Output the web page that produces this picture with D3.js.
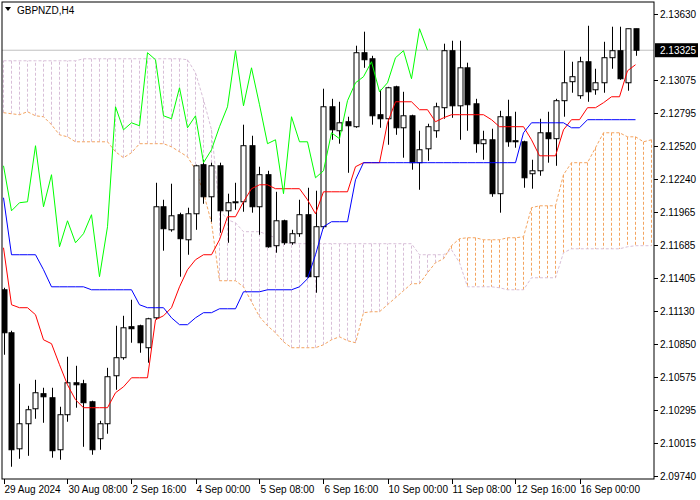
<!DOCTYPE html>
<html>
<head>
<meta charset="utf-8">
<script src="https://cdn.jsdelivr.net/npm/d3@7"></script>
<style>
  body { margin: 0; background: #fff; }
  text { font-family: "Liberation Sans", Arial, sans-serif; font-size: 10px; }
</style>
</head>
<body>
<div id="chart"></div>
<script>
// GBPNZD H4 candles, 29 Aug - 16 Sep 2024
var opens = [2.11308,2.10946,2.09969,2.10180,2.10306,2.10433,2.10399,2.09961,2.10256,2.10525,
  2.10517,2.10365,2.10054,2.10180,2.10584,2.10736,2.10997,2.11005,2.10820,2.11072,
  2.12007,2.11813,2.11940,2.11729,2.11948,2.12361,2.12091,2.12352,2.11973,2.12041,
  2.12049,2.12521,2.12007,2.12277,2.11679,2.11889,2.11704,2.11780,2.11940,2.11418,
  2.11839,2.12849,2.12647,2.12723,2.12681,2.13304,2.13253,2.12782,2.12748,2.13017,
  2.12672,2.12773,2.12378,2.12495,2.12647,2.12841,2.13321,2.12857,2.13177,2.12874,
  2.12538,2.12571,2.12117,2.12765,2.12563,2.12554,2.12285,2.12310,2.12630,2.12580,
  2.12900,2.13060,2.12942,2.13228,2.12992,2.13051,2.13262,2.13321,2.13051,2.13506]
var highs = [2.11325,2.10963,2.10517,2.10331,2.10550,2.10483,2.10483,2.10323,2.10744,2.10668,
  2.10550,2.10374,2.10205,2.10651,2.11005,2.11089,2.11224,2.11014,2.11072,2.12209,
  2.12066,2.12201,2.11957,2.11999,2.12361,2.12403,2.12378,2.12378,2.12117,2.12209,
  2.12698,2.12605,2.12344,2.12310,2.12133,2.11898,2.11813,2.12066,2.12167,2.12142,
  2.13001,2.12916,2.12891,2.12765,2.13363,2.13481,2.13278,2.12992,2.13017,2.13026,
  2.12975,2.12782,2.12647,2.12706,2.12883,2.13380,2.13405,2.13405,2.13220,2.12916,
  2.12647,2.12664,2.12815,2.12908,2.12807,2.12563,2.12403,2.12748,2.12807,2.12916,
  2.13321,2.13228,2.13270,2.13531,2.13169,2.13396,2.13523,2.13523,2.13506,2.13506]
var lows = [2.10761,2.09818,2.09885,2.09910,2.10222,2.10188,2.09894,2.09877,2.10197,2.10315,
  2.09986,2.09919,2.09961,2.10096,2.10466,2.10719,2.10862,2.10778,2.10694,2.11056,
  2.11637,2.11797,2.11418,2.11603,2.11813,2.12032,2.11881,2.11788,2.11704,2.11982,
  2.11965,2.11957,2.11771,2.11662,2.11620,2.11687,2.11687,2.11754,2.11409,2.11283,
  2.11822,2.12571,2.12538,2.12293,2.12672,2.13177,2.12698,2.12672,2.12529,2.12613,
  2.12420,2.12319,2.12150,2.12394,2.12588,2.12748,2.12756,2.12571,2.12647,2.12462,
  2.12403,2.12091,2.11957,2.12512,2.12504,2.12167,2.12159,2.12268,2.12378,2.12352,
  2.12765,2.12967,2.12916,2.12891,2.12950,2.12967,2.13169,2.13076,2.12984,2.13278]
var closes = [2.10946,2.09961,2.10180,2.10298,2.10441,2.10407,2.09953,2.10256,2.10525,2.10508,
  2.10357,2.09961,2.10180,2.10576,2.10736,2.10988,2.10980,2.10862,2.11064,2.12007,
  2.11822,2.11931,2.11738,2.11948,2.12352,2.12091,2.12352,2.11973,2.12041,2.12049,
  2.12521,2.12007,2.12277,2.11670,2.11889,2.11704,2.11780,2.11940,2.11418,2.11839,
  2.12849,2.12655,2.12714,2.12689,2.13304,2.13245,2.12773,2.12748,2.13009,2.12672,
  2.12773,2.12378,2.12487,2.12681,2.12849,2.13321,2.12857,2.13177,2.12866,2.12538,
  2.12571,2.12117,2.12765,2.12554,2.12554,2.12251,2.12310,2.12630,2.12580,2.12900,
  2.13051,2.13102,2.13228,2.12975,2.13051,2.13262,2.13321,2.13085,2.13506,2.13325]

// Ichimoku lines
var tenkan = [2.11662,2.11182,2.11157,2.11157,2.11098,2.10887,2.10854,2.10677,2.10508,2.10382,
  2.10315,2.10315,2.10315,2.10315,2.10441,2.10491,2.10567,2.10567,2.10567,2.11056,
  2.11089,2.11157,2.11333,2.11477,2.11561,2.11603,2.11603,2.11729,2.11923,2.11923,
  2.12049,2.12159,2.12192,2.12192,2.12159,2.12159,2.12159,2.12159,2.12066,2.11948,
  2.12133,2.12133,2.12133,2.12133,2.12344,2.12378,2.12378,2.12378,2.12714,2.12891,
  2.12891,2.12891,2.12824,2.12824,2.12723,2.12756,2.12782,2.12782,2.12782,2.12782,
  2.12782,2.12740,2.12681,2.12681,2.12681,2.12681,2.12571,2.12436,2.12436,2.12436,
  2.12655,2.12740,2.12740,2.12841,2.12841,2.12883,2.12933,2.12933,2.13152,2.13203]
var kijun = [2.12083,2.11603,2.11603,2.11603,2.11603,2.11477,2.11333,2.11333,2.11333,2.11333,
  2.11333,2.11308,2.11308,2.11308,2.11308,2.11308,2.11308,2.11182,2.11157,2.11157,
  2.11157,2.11072,2.11014,2.11014,2.11072,2.11115,2.11115,2.11148,2.11148,2.11148,
  2.11291,2.11291,2.11291,2.11308,2.11308,2.11308,2.11308,2.11333,2.11401,2.11603,
  2.11839,2.11881,2.11881,2.11881,2.12234,2.12378,2.12378,2.12378,2.12378,2.12378,
  2.12378,2.12378,2.12378,2.12378,2.12378,2.12378,2.12378,2.12378,2.12378,2.12378,
  2.12378,2.12378,2.12378,2.12378,2.12378,2.12630,2.12714,2.12714,2.12714,2.12714,
  2.12714,2.12672,2.12672,2.12740,2.12740,2.12740,2.12740,2.12740,2.12740,2.12740]
var senkouA = [2.12799,2.12790,2.12782,2.12807,2.12773,2.12765,2.12698,2.12613,2.12596,2.12554,
  2.12554,2.12554,2.12554,2.12554,2.12470,2.12420,2.12462,2.12538,2.12538,2.12538,
  2.12538,2.12512,2.12470,2.12428,2.12319,2.12125,2.11872,2.11384,2.11384,2.11384,
  2.11333,2.11207,2.11081,2.11005,2.10946,2.10870,2.10820,2.10820,2.10820,2.10820,
  2.10845,2.10887,2.10912,2.10879,2.10862,2.11115,2.11123,2.11123,2.11182,2.11241,
  2.11300,2.11359,2.11359,2.11451,2.11536,2.11569,2.11679,2.11738,2.11746,2.11746,
  2.11729,2.11729,2.11729,2.11746,2.11746,2.11754,2.11999,2.12015,2.12015,2.12015,
  2.12277,2.12378,2.12378,2.12378,2.12504,2.12630,2.12630,2.12630,2.12596,2.12596,
  2.12554,2.12571]
var senkouB = [2.13236,2.13236,2.13236,2.13236,2.13236,2.13236,2.13236,2.13236,2.13236,2.13236,
  2.13253,2.13253,2.13253,2.13253,2.13253,2.13253,2.13253,2.13253,2.13253,2.13253,
  2.13253,2.13253,2.13253,2.13245,2.13135,2.12908,2.12655,2.11982,2.11898,2.11872,
  2.11797,2.11797,2.11797,2.11771,2.11746,2.11704,2.11696,2.11696,2.11696,2.11696,
  2.11696,2.11696,2.11696,2.11696,2.11696,2.11696,2.11696,2.11696,2.11696,2.11696,
  2.11696,2.11696,2.11603,2.11603,2.11603,2.11603,2.11645,2.11536,2.11333,2.11333,
  2.11333,2.11333,2.11325,2.11308,2.11308,2.11308,2.11409,2.11409,2.11409,2.11409,
  2.11620,2.11653,2.11653,2.11653,2.11653,2.11653,2.11653,2.11653,2.11670,2.11679,
  2.11679,2.11679]

var priceTicks = [2.13630,2.13075,2.12795,2.12520,2.12240,2.11965,2.11685,2.11405,2.11130,2.10850,2.10575,2.10295,2.10015,2.09740]
var timeLabels = ["29 Aug 2024","30 Aug 08:00","2 Sep 16:00","4 Sep 00:00","5 Sep 08:00","6 Sep 16:00","10 Sep 00:00","11 Sep 08:00","12 Sep 16:00","16 Sep 00:00"]
var lastPrice = 2.13325
var chikouShift = 26

var W = 700, H = 500
var plot = {left: 2, top: 2, right: 654, bottom: 479}

var x = d3.scaleLinear().domain([0, 81]).range([3.5, 651.5])
var y = d3.scaleLinear().domain([2.09740, 2.13630]).range([476, 14])

var svg = d3.select("#chart").append("svg").attr("width", W).attr("height", H)

svg.append("clipPath").attr("id", "clip").append("rect")
  .attr("x", plot.left).attr("y", plot.top)
  .attr("width", plot.right - plot.left).attr("height", plot.bottom - plot.top)

var g = svg.append("g").attr("clip-path", "url(#clip)")

// cloud hatching
g.selectAll(".hatch").data(senkouA).enter().append("line")
  .attr("x1", function(d, i) { return x(i) }).attr("x2", function(d, i) { return x(i) })
  .attr("y1", function(d) { return y(d) })
  .attr("y2", function(d, i) { return y(senkouB[i]) })
  .attr("stroke", function(d, i) { return d > senkouB[i] ? "#f4a460" : "#d8bfd8" })
  .attr("stroke-dasharray", "3,2")

var line = d3.line().x(function(d, i) { return x(i) }).y(function(d) { return y(d) })

g.append("path").attr("d", line(senkouA)).attr("fill", "none")
  .attr("stroke", "#f4a460").attr("stroke-dasharray", "3,2")
g.append("path").attr("d", line(senkouB)).attr("fill", "none")
  .attr("stroke", "#d8bfd8").attr("stroke-dasharray", "3,2")

// bid line
g.append("line").attr("x1", plot.left).attr("x2", plot.right)
  .attr("y1", y(lastPrice)).attr("y2", y(lastPrice)).attr("stroke", "#c0c0c0")

// candles
var bars = d3.range(closes.length)
g.selectAll(".wick").data(bars).enter().append("line")
  .attr("x1", function(i) { return Math.round(x(i)) + 0.5 })
  .attr("x2", function(i) { return Math.round(x(i)) + 0.5 })
  .attr("y1", function(i) { return y(highs[i]) })
  .attr("y2", function(i) { return y(lows[i]) })
  .attr("stroke", "#000")

g.selectAll(".body").data(bars).enter().append("rect")
  .attr("x", function(i) { return Math.round(x(i)) - 2 })
  .attr("width", 5)
  .attr("y", function(i) { return y(Math.max(opens[i], closes[i])) })
  .attr("height", function(i) { return Math.max(1, Math.abs(y(opens[i]) - y(closes[i]))) })
  .attr("fill", function(i) { return closes[i] >= opens[i] ? "#fff" : "#000" })
  .attr("stroke", "#000")

// tenkan, kijun, chikou
g.append("path").attr("d", line(tenkan)).attr("fill", "none").attr("stroke", "#ff0000")
g.append("path").attr("d", line(kijun)).attr("fill", "none").attr("stroke", "#0000ff")
var chikou = closes.slice(chikouShift)
g.append("path").attr("d", line(chikou)).attr("fill", "none").attr("stroke", "#00ff00")

// frame
svg.append("rect").attr("x", plot.left).attr("y", plot.top)
  .attr("width", plot.right - plot.left).attr("height", plot.bottom - plot.top)
  .attr("fill", "none").attr("stroke", "#000")

// right axis
var yAxis = svg.append("g")
yAxis.selectAll(".tk").data(priceTicks).enter().append("line")
  .attr("x1", plot.right).attr("x2", plot.right + 4)
  .attr("y1", function(d) { return Math.round(y(d)) + 0.5 })
  .attr("y2", function(d) { return Math.round(y(d)) + 0.5 })
  .attr("stroke", "#000")
yAxis.selectAll(".lb").data(priceTicks).enter().append("text")
  .attr("x", plot.right + 6).attr("y", function(d) { return y(d) + 4 })
  .text(function(d) { return d.toFixed(5) })

svg.append("rect").attr("x", plot.right + 1).attr("y", y(lastPrice) - 7)
  .attr("width", 43).attr("height", 14).attr("fill", "#000")
svg.append("text").attr("x", plot.right + 6).attr("y", y(lastPrice) + 4)
  .attr("fill", "#fff").text(lastPrice.toFixed(5))

// bottom axis
var xAxis = svg.append("g")
xAxis.selectAll(".tk").data(timeLabels).enter().append("line")
  .attr("x1", function(d, i) { return Math.round(x(i * 8)) + 0.5 })
  .attr("x2", function(d, i) { return Math.round(x(i * 8)) + 0.5 })
  .attr("y1", plot.bottom).attr("y2", plot.bottom + 5).attr("stroke", "#000")
xAxis.selectAll(".lb").data(timeLabels).enter().append("text")
  .attr("x", function(d, i) { return x(i * 8) + 1 }).attr("y", plot.bottom + 14)
  .text(function(d) { return d })

// title
svg.append("path").attr("d", "M5,7 L11,7 L8,11 Z").attr("fill", "#000")
svg.append("text").attr("x", 17).attr("y", 14).attr("font-size", "10px").text("GBPNZD,H4")
</script>
</body>
</html>
